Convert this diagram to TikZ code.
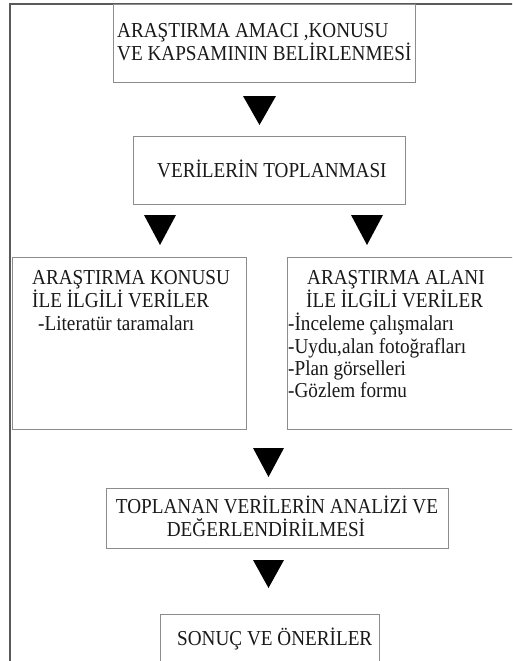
\documentclass[tikz,border=0pt]{standalone}
\usepackage{fontspec}
\setmainfont{Liberation Serif}
\newcommand{\vtall}[1]{\scalebox{1.01}[1.12]{#1}}
\begin{document}
\begin{tikzpicture}[x=1pt,y=-1pt,
  box/.style={draw=black!45,line width=0.9pt,fill=none},
  frame/.style={draw=black!65,line width=1.3pt},
  txt/.style={inner sep=0pt,anchor=base west,font=\fontsize{19}{23}\selectfont,text=black!90},
  ctxt/.style={inner sep=0pt,anchor=base,font=\fontsize{19}{23}\selectfont,text=black!90},
  tri/.style={fill=black}]
\useasboundingbox (0,0) rectangle (512,661);
\clip (0,0) rectangle (512,661);
\fill[white] (0,0) rectangle (512,661);
% outer frame
\coordinate (fTL) at (10,4);
\coordinate (fTR) at (514,4);
\coordinate (fBL) at (10,665);
\draw[frame] (fTR) -- (fTL) -- (fBL);
% boxes
\draw[box] (113,4) rectangle (415,82);
\node[txt] (t1a) at (117,38) {\vtall{ARAŞTIRMA AMACI ,KONUSU}};
\node[txt] (t1b) at (117,61) {\vtall{VE KAPSAMININ BELİRLENMESİ}};
\fill[tri] (243,96) -- (276,96) -- (259.5,125) -- cycle;
\draw[box] (133,136) rectangle (405,204);
\node[txt] (t2) at (157,177) {\vtall{VERİLERİN TOPLANMASI}};
\fill[tri] (144,215) -- (176,215) -- (160,245) -- cycle;
\fill[tri] (351,215) -- (383,215) -- (367,245) -- cycle;
\draw[box] (12,257) rectangle (246,429);
\node[txt] (t3a) at (32,284) {\vtall{ARAŞTIRMA KONUSU}};
\node[txt] (t3b) at (32,307) {\vtall{İLE İLGİLİ VERİLER}};
\node[txt] (t3c) at (38,330) {\vtall{-Literatür taramaları}};
\draw[box] (287,257) rectangle (516,429);
\node[txt] (t4a) at (307,284) {\vtall{ARAŞTIRMA ALANI}};
\node[txt] (t4b) at (306,307) {\vtall{İLE İLGİLİ VERİLER}};
\node[txt] (t4c) at (288,330) {\vtall{-İnceleme çalışmaları}};
\node[txt] (t4d) at (288,353) {\vtall{-Uydu,alan fotoğrafları}};
\node[txt] (t4e) at (288,375) {\vtall{-Plan görselleri}};
\node[txt] (t4f) at (288,397) {\vtall{-Gözlem formu}};
\fill[tri] (253,448) -- (284,448) -- (268.5,477) -- cycle;
\draw[box] (106,488) rectangle (448,548);
\node[ctxt] (t5a) at (277,513) {\vtall{TOPLANAN VERİLERİN ANALİZİ VE}};
\node[ctxt] (t5b) at (266,536) {\vtall{DEĞERLENDİRİLMESİ}};
\fill[tri] (253,560) -- (284,560) -- (268.5,588) -- cycle;
\draw[box] (160,614) rectangle (379,670);
\node[txt] (t6) at (177,645) {\vtall{SONUÇ VE ÖNERİLER}};
\end{tikzpicture}
\end{document}
